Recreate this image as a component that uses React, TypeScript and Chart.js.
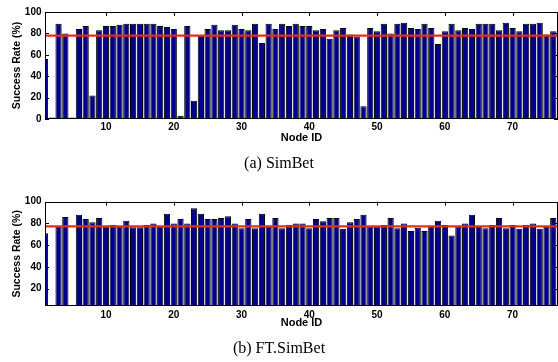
import React, { useEffect, useRef } from 'react';
import { Chart, registerables } from 'chart.js';

Chart.register(...registerables);
Chart.defaults.font.family = "'Liberation Sans', Arial, sans-serif";
Chart.defaults.color = '#000';

const nodeIds = [
  1, 2, 3, 4, 5, 6, 7, 8, 9, 10, 11, 12, 13, 14, 15, 16, 17, 18, 19, 20,
  21, 22, 23, 24, 25, 26, 27, 28, 29, 30, 31, 32, 33, 34, 35, 36, 37, 38, 39, 40,
  41, 42, 43, 44, 45, 46, 47, 48, 49, 50, 51, 52, 53, 54, 55, 56, 57, 58, 59, 60,
  61, 62, 63, 64, 65, 66, 67, 68, 69, 70, 71, 72, 73, 74, 75, 76, 77,
];

const simBetRates = [
  56, 1.5, 89, 80, 1.5, 84, 87, 22, 83, 87, 87, 88, 89, 89, 89, 89, 89, 87, 86, 84,
  3, 87, 17, 78, 84, 88, 83, 83, 88, 84, 83, 89, 71, 89, 84, 89, 87, 89, 87, 87,
  83, 84, 75, 83, 85, 79, 77, 12, 85, 82, 89, 80, 89, 90, 85, 84, 89, 85, 70, 82,
  89, 83, 85, 84, 89, 89, 89, 83, 90, 85, 82, 89, 89, 90, 79, 82, 89,
];

const ftSimBetRates = [
  71, 1, 77, 86, 1, 88, 84, 81, 85, 77, 78.5, 77, 82.5, 76.5, 76.5, 78.5, 80, 77, 89, 80,
  84, 80, 94, 89, 84, 84, 85, 86.5, 80, 75.5, 84, 75.5, 89, 77, 85, 75.5, 78.5, 80, 80, 75.5,
  84, 82, 85, 85, 75, 81, 84, 88, 77, 77, 78.5, 85, 75.5, 80, 73, 76, 73, 77, 82.5, 78.5,
  69, 77, 80, 88, 77, 75.5, 78.5, 85, 75.5, 78.5, 75, 78.5, 80, 75, 77, 85, 81,
];

const simBetAverage = 78;
const ftSimBetAverage = 77.2;

const xTickValues = [10, 20, 30, 40, 50, 60, 70];
const yTicksTop = [0, 20, 40, 60, 80, 100];
const yTicksBottom = [20, 40, 60, 80, 100];

const X_MIN = 1;
const X_MAX = 76.7;
const NAVY = '#00008b';
const RED = '#e0301a';

const framePlugin = {
  id: 'frame',
  beforeDatasetsDraw(chart: any) {
    const { ctx, chartArea } = chart;
    const { left, right, top, bottom } = chartArea;
    const xs = chart.scales.x;
    const ys = chart.scales.y;
    ctx.save();
    ctx.strokeStyle = '#000';
    ctx.lineWidth = 1;
    ctx.beginPath();
    xTickValues.forEach((v) => {
      const px = Math.round(xs.getPixelForValue(v)) + 0.5;
      ctx.moveTo(px, top);
      ctx.lineTo(px, top + 4);
      ctx.moveTo(px, bottom);
      ctx.lineTo(px, bottom - 4);
    });
    ys.ticks.forEach((t: any) => {
      const py = Math.round(ys.getPixelForValue(t.value)) + 0.5;
      ctx.moveTo(left, py);
      ctx.lineTo(left + 4, py);
      ctx.moveTo(right, py);
      ctx.lineTo(right - 4, py);
    });
    ctx.stroke();
    ctx.restore();
  },
  afterDatasetsDraw(chart: any) {
    const { ctx, chartArea } = chart;
    const { left, right, top, bottom } = chartArea;
    ctx.save();
    ctx.strokeStyle = '#000';
    ctx.lineWidth = 1;
    ctx.strokeRect(Math.round(left) + 0.5, Math.round(top) + 0.5, Math.round(right - left) - 1, Math.round(bottom - top) - 1);
    ctx.restore();
  },
};

type Geom = {
  top: number;
  padTop: number;
  padBottom: number;
  xHeight: number;
  xTickPad: number;
  titlePadTop: number;
};

function Panel({ values, avg, caption, yMin, yTicks, geom }: { values: number[]; avg: number; caption: string; yMin: number; yTicks: number[]; geom: Geom }) {
  const ref = useRef<HTMLCanvasElement>(null);
  useEffect(() => {
    const chart = new Chart(ref.current as HTMLCanvasElement, {
      type: 'bar',
      data: {
        datasets: [
          {
            type: 'line',
            data: [
              { x: 0, y: avg },
              { x: 80, y: avg },
            ],
            borderColor: RED,
            borderWidth: 2.2,
            pointRadius: 0,
            order: 0,
            clip: 0,
          } as any,
          {
            type: 'bar',
            data: nodeIds.map((id, i) => ({ x: id, y: values[i] })),
            backgroundColor: NAVY,
            borderColor: '#000',
            borderWidth: 1,
            barPercentage: 0.92,
            categoryPercentage: 1,
            order: 1,
            clip: 0,
          } as any,
        ],
      },
      options: {
        animation: false,
        responsive: false,
        maintainAspectRatio: false,
        events: [],
        layout: { padding: { top: geom.padTop, bottom: geom.padBottom, left: 0, right: 0 } },
        plugins: {
          legend: { display: false },
          tooltip: { enabled: false },
          title: {
            display: true,
            position: 'bottom',
            text: caption,
            color: '#000',
            font: { family: "'Liberation Serif', 'Times New Roman', serif", size: 16, weight: 'normal' },
            padding: { top: geom.titlePadTop, bottom: 0 },
          },
        },
        scales: {
          x: {
            type: 'linear',
            min: X_MIN,
            max: X_MAX,
            offset: false,
            grid: { display: false, drawTicks: false },
            border: { display: false },
            afterBuildTicks: (s: any) => {
              s.ticks = xTickValues.map((v) => ({ value: v }));
            },
            afterFit: (s: any) => {
              s.height = geom.xHeight;
            },
            ticks: {
              color: '#000',
              font: { size: 10, weight: 'bold' },
              padding: geom.xTickPad,
              maxRotation: 0,
              autoSkip: false,
            },
            title: {
              display: true,
              text: 'Node ID',
              color: '#000',
              font: { size: 11, weight: 'bold' },
              padding: 0,
            },
          },
          y: {
            type: 'linear',
            min: yMin,
            max: 100,
            grid: { display: false, drawTicks: false },
            border: { display: false },
            afterBuildTicks: (s: any) => {
              s.ticks = yTicks.map((v) => ({ value: v }));
            },
            afterFit: (s: any) => {
              s.width = 45;
            },
            ticks: {
              color: '#000',
              font: { size: 10, weight: 'bold' },
              padding: 3.5,
            },
            title: {
              display: true,
              text: 'Success Rate (%)',
              color: '#000',
              font: { size: 10.5, weight: 'bold' },
              padding: { top: 11, bottom: 0 },
            },
          },
        },
      } as any,
      plugins: [framePlugin],
    });
    return () => chart.destroy();
  }, []);
  return (
    <canvas
      ref={ref}
      width={558}
      height={181}
      style={{ position: 'absolute', left: 0, top: geom.top, width: 558, height: 181 }}
    />
  );
}

export default function App() {
  return (
    <div style={{ position: 'absolute', left: 0, top: 0, width: 558, height: 362, background: '#fff', overflow: 'hidden' }}>
      <Panel
        values={simBetRates}
        avg={simBetAverage}
        caption="(a) SimBet"
        yMin={0}
        yTicks={yTicksTop}
        geom={{ top: 0, padTop: 12, padBottom: 7.4, xHeight: 25.9, xTickPad: 2, titlePadTop: 9.5 }}
      />
      <Panel
        values={ftSimBetRates}
        avg={ftSimBetAverage}
        caption="(b) FT.SimBet"
        yMin={4}
        yTicks={yTicksBottom}
        geom={{ top: 181, padTop: 20.7, padBottom: 3.4, xHeight: 23.1, xTickPad: 3, titlePadTop: 10.3 }}
      />
    </div>
  );
}
